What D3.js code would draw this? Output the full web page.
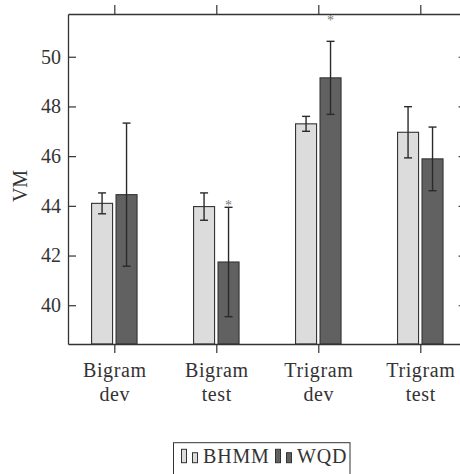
<!DOCTYPE html>
<html>
<head>
<meta charset="utf-8">
<script src="https://cdn.jsdelivr.net/npm/d3@7"></script>
<style>
  body { margin: 0; background: #fff; }
  svg { display: block; }
  text { font-family: "Liberation Serif", "DejaVu Serif", serif; fill: #333; }
</style>
</head>
<body>
<svg id="chart" width="460" height="474"></svg>
<script>
// data
var categories = ['Bigram dev', 'Bigram test', 'Trigram dev', 'Trigram test'];
var seriesNames = ['BHMM', 'WQD'];
var bhmm = [44.10, 43.97, 47.30, 46.96];
var bhmmErr = [0.42, 0.55, 0.30, 1.03];
var wqd = [44.45, 41.74, 49.15, 45.89];
var wqdErr = [2.88, 2.20, 1.47, 1.28];
var wqdStar = [false, true, true, false];
var yTicks = [40, 42, 44, 46, 48, 50];

var colors = ['#dcdcdd', '#616161'];
var ink = '#333';

var svg = d3.select('#chart');

var margins = {top: 14, bottom: 130, left: 68, right: -6.6};
var width = 460 - margins.left - margins.right;
var height = 474 - margins.top - margins.bottom;

var xScale = d3.scaleLinear()
  .domain([0.546, 4.454])
  .range([margins.left, margins.left + width]);

var yScale = d3.scaleLinear()
  .domain([38.44, 51.72])
  .range([margins.top + height, margins.top]);

var catPos = categories.map(function(d, i){ return i + 1 });
var barW = xScale(0.206) - xScale(0);
var offs = [-0.12, 0.12];

// bars
var series = [bhmm, wqd];
var errs = [bhmmErr, wqdErr];
series.forEach(function(vals, s){
  var g = svg.append('g');
  g.selectAll('rect')
    .data(vals)
    .enter()
    .append('rect')
    .attr('x', function(d, i){ return xScale(catPos[i] + offs[s]) - barW / 2 })
    .attr('y', function(d){ return yScale(d) })
    .attr('width', barW)
    .attr('height', function(d){ return yScale.range()[0] - yScale(d) })
    .attr('fill', colors[s])
    .attr('stroke', ink)
    .attr('stroke-width', 1.1);

  // error bars
  var eb = g.selectAll('g.err')
    .data(vals)
    .enter()
    .append('g')
    .attr('class', 'err')
    .attr('stroke', '#2a2a2a')
    .attr('stroke-width', 1.4);
  eb.append('line')
    .attr('x1', function(d, i){ return xScale(catPos[i] + offs[s]) })
    .attr('x2', function(d, i){ return xScale(catPos[i] + offs[s]) })
    .attr('y1', function(d, i){ return yScale(d + errs[s][i]) })
    .attr('y2', function(d, i){ return yScale(d - errs[s][i]) });
  [1, -1].forEach(function(sign){
    eb.append('line')
      .attr('x1', function(d, i){ return xScale(catPos[i] + offs[s]) - 4 })
      .attr('x2', function(d, i){ return xScale(catPos[i] + offs[s]) + 4 })
      .attr('y1', function(d, i){ return yScale(d + sign * errs[s][i]) })
      .attr('y2', function(d, i){ return yScale(d + sign * errs[s][i]) });
  });
});

// significance stars
wqd.forEach(function(d, i){
  if (!wqdStar[i]) return;
  svg.append('text')
    .attr('class', 'star')
    .attr('x', xScale(catPos[i] + offs[1]))
    .attr('y', yScale(d + 2.35) + 6)
    .attr('text-anchor', 'middle')
    .attr('font-size', '14px')
    .style('fill', '#777')
    .text('*');
});

// axes
var axLeft = svg.append('g')
  .attr('transform', 'translate(' + margins.left + ',0)')
  .call(d3.axisLeft(yScale).tickValues(yTicks).tickSize(-8).tickPadding(7).tickSizeOuter(0));
var axRight = svg.append('g')
  .attr('transform', 'translate(' + (margins.left + width) + ',0)')
  .call(d3.axisRight(yScale).tickValues(yTicks).tickSize(-8).tickFormat('').tickSizeOuter(0));
var axTop = svg.append('g')
  .attr('transform', 'translate(0,' + margins.top + ')')
  .call(d3.axisTop(xScale).tickValues(catPos).tickSize(9).tickFormat('').tickSizeOuter(0));
var axBottom = svg.append('g')
  .attr('transform', 'translate(0,' + (margins.top + height) + ')')
  .call(d3.axisBottom(xScale).tickValues(catPos).tickSize(9).tickFormat('').tickSizeOuter(0));

[axLeft, axRight, axTop, axBottom].forEach(function(a){
  a.select('.domain').attr('stroke', ink).attr('stroke-width', 1.3);
  a.selectAll('.tick line').attr('stroke', ink).attr('stroke-width', 1.2);
  a.selectAll('text').attr('font-size', '20px').style('fill', ink);
});
axLeft.attr('font-family', null);
axBottom.attr('font-family', null);

// category labels on two lines
axBottom.selectAll('.tick')
  .append('text')
  .attr('text-anchor', 'middle')
  .attr('font-size', '20px')
  .attr('letter-spacing', '0.6px')
  .style('fill', ink)
  .each(function(d, i){
    var parts = categories[i].split(' ');
    var t = d3.select(this);
    t.append('tspan').attr('x', 0).attr('y', 33).text(parts[0]);
    t.append('tspan').attr('x', 0).attr('y', 57).text(parts[1]);
  });

// y label
svg.append('text')
  .attr('transform', 'translate(27,' + 186 + ') rotate(-90)')
  .attr('text-anchor', 'middle')
  .attr('font-size', '20px')
  .text('VM');

// legend
var legend = svg.append('g').attr('transform', 'translate(173.5,442.7)');
legend.append('rect')
  .attr('x', 0).attr('y', 0)
  .attr('width', 176.5).attr('height', 40)
  .attr('fill', 'white')
  .attr('stroke', ink)
  .attr('stroke-width', 1);
var itemX = [8, 102];
seriesNames.forEach(function(name, s){
  var it = legend.append('g').attr('transform', 'translate(' + itemX[s] + ',0)');
  it.append('rect').attr('x', 0).attr('y', 6.6).attr('width', 5).attr('height', 13.4)
    .attr('fill', colors[s]).attr('stroke', ink).attr('stroke-width', 1);
  it.append('rect').attr('x', 11).attr('y', 10).attr('width', 5).attr('height', 10)
    .attr('fill', colors[s]).attr('stroke', ink).attr('stroke-width', 1);
  it.append('text')
    .attr('x', 21.5)
    .attr('y', 20)
    .attr('font-size', '20px')
    .attr('letter-spacing', '0.8px')
    .text(name);
});
</script>
</body>
</html>
